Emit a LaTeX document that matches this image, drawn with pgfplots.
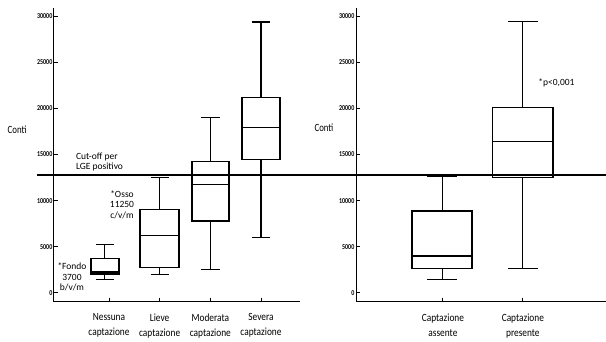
\documentclass[border=0pt]{standalone}
\usepackage{pgfplots}
\pgfplotsset{compat=1.18}
\usepackage{graphicx}
\usepackage{fontspec}
\setmainfont{Carlito}

% narrow setting for labels
\newcommand\cond[1]{\scalebox{0.85}[1]{#1}}
\newcommand\numcond[1]{\scalebox{0.8}[1]{\bfseries #1}}

% box and whiskers: #1 position, #2 half box width, #3 half cap width,
% #4 lower whisker, #5 lower quartile, #6 median, #7 upper quartile, #8 upper whisker
\newcommand\boxwhisker[8]{%
  \addplot[black, line width=1.1pt, mark=none] coordinates {(#1,#7) (#1,#8)};
  \addplot[black, line width=1.1pt, mark=none] coordinates {(#1,#4) (#1,#5)};
  \addplot[black, line width=1.2pt, mark=none] coordinates {({#1-#3},#8) ({#1+#3},#8)};
  \addplot[black, line width=1.2pt, mark=none] coordinates {({#1-#3},#4) ({#1+#3},#4)};
  \addplot[black, line width=1.6pt, mark=none] coordinates
    {({#1-#2},#5) ({#1+#2},#5) ({#1+#2},#7) ({#1-#2},#7)} -- cycle;
  \addplot[black, line width=1.2pt, mark=none] coordinates {({#1-#2},#6) ({#1+#2},#6)};
}

\pgfplotsset{
  panel/.style={
    scale only axis,
    height=294pt,
    ymin=-1000, ymax=30900,
    axis x line*=bottom,
    axis y line*=left,
    axis line style={line width=1pt},
    tick align=inside,
    major tick length=4pt,
    tick style={line width=0.9pt, black},
    ytick={0,5000,10000,15000,20000,25000,30000},
    scaled y ticks=false,
    /pgf/number format/1000 sep={},
    /pgf/number format/assume math mode=true,
    yticklabel={\numcond{\pgfmathprintnumber{\tick}}},
    yticklabel style={font=\fontsize{7.5}{8}\selectfont, inner sep=1.5pt},
    xticklabel style={font=\fontsize{11}{15}\selectfont, align=center, yshift=-8pt},
    ylabel={\scalebox{0.8}[1]{Conti}},
    ylabel style={font=\fontsize{11}{12}\selectfont, rotate=-90, anchor=center},
  },
}

\begin{document}
\begin{tikzpicture}
\path[use as bounding box] (0pt,0pt) rectangle (606pt,342pt);

% four uptake grades
\begin{axis}[panel,
  at={(54pt,40pt)}, anchor=south west,
  width=246pt,
  xmin=-0.085, xmax=4.77,
  xtick={1,2,3,4},
  xticklabels={{\cond{Nessuna}\\\cond{captazione}},
               {\cond{Lieve}\\\cond{captazione}},
               {\cond{Moderata}\\\cond{captazione}},
               {\cond{Severa}\\\cond{captazione}}},
  y label style={at={(rel axis cs:-0.15,0.585)}},
  clip=false,
]
\boxwhisker{0.92}{0.275}{0.18}{1400}{2050}{2250}{3720}{5250}
\boxwhisker{2}{0.385}{0.18}{2020}{2750}{6180}{9040}{12470}
\boxwhisker{3}{0.365}{0.185}{2530}{7810}{11750}{14240}{19000}
\boxwhisker{4}{0.37}{0.185}{5960}{14460}{17930}{21180}{29380}

% cut-off threshold across both panels
\addplot[black, line width=2.2pt, mark=none] coordinates {(-0.42,12800) (10.8,12800)};

\node[anchor=west, align=left, font=\fontsize{9.5}{10}\selectfont] at (axis cs:0.28,14170)
  {Cut-off per\\LGE positivo};
\node[align=center, font=\fontsize{9.5}{10.5}\selectfont] at (axis cs:1.257,9560)
  {*Osso\\11250\\c/v/m};
\node[align=center, font=\fontsize{9.5}{10.5}\selectfont] at (axis cs:0.27,1700)
  {*Fondo\\3700\\b/v/m};
\end{axis}

% absent vs present
\begin{axis}[panel,
  at={(356pt,40pt)}, anchor=south west,
  width=250pt,
  xmin=-0.0875, xmax=3.04,
  xtick={1,2},
  xticklabels={{\cond{Captazione}\\\cond{assente}},
               {\cond{Captazione}\\\cond{presente}}},
  y label style={at={(rel axis cs:-0.128,0.592)}},
  clip=false,
]
\boxwhisker{0.99}{0.375}{0.185}{1450}{2640}{3980}{8890}{12580}
\boxwhisker{2}{0.38}{0.185}{2600}{12500}{16400}{20090}{29450}
\node[anchor=west, font=\fontsize{9.5}{10}\selectfont] at (axis cs:2.15,22730) {*p<0,001};
\end{axis}
\end{tikzpicture}
\end{document}
